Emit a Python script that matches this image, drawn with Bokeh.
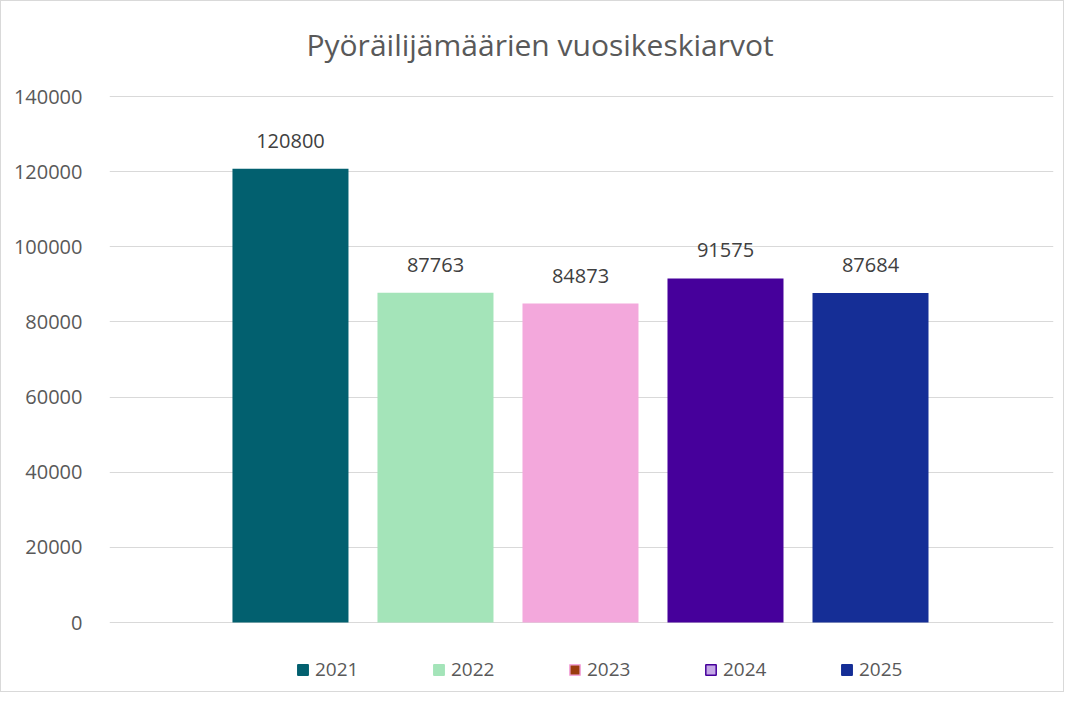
from bokeh.plotting import figure
from bokeh.models import ColumnDataSource, Range1d, FixedTicker, Legend, LegendItem, BasicTickFormatter
from bokeh.core.properties import value
from bokeh.embed import file_html
from bokeh.resources import INLINE

years = ["2021", "2022", "2023", "2024", "2025"]
averages = [120800, 87763, 84873, 91575, 87684]
bar_colors = ["#02606f", "#a4e4b9", "#f3a8dc", "#46009b", "#152e96"]
legend_fill = ["#02606f", "#a4e4b9", "#9b3c0f", "#c4a8e6", "#152e96"]
legend_line = ["#02606f", "#a4e4b9", "#f3a8dc", "#46009b", "#152e96"]
y_ticks = [0, 20000, 40000, 60000, 80000, 100000, 120000, 140000]
title_text = "Pyöräilijämäärien vuosikeskiarvot"

FONT = "Open Sans"
GREY = "#595959"

idx = list(range(len(years)))
src = ColumnDataSource(dict(x=idx, y=averages, color=bar_colors,
                            label=[str(v) for v in averages]))

# frame spans 72..692 px; 0 sits at 621 px and 140000 at 95 px (266.16 units / px)
p = figure(width=1064, height=692, output_backend="svg", toolbar_location=None,
           x_axis_type=None, x_range=Range1d(-1.248, 5.262), y_range=Range1d(-18897, 146122),
           min_border_left=108, min_border_right=12, min_border_top=72, min_border_bottom=0)
p.styles = {"border": "1px solid #d9d9d9"}
p.outline_line_color = None
p.background_fill_color = "white"
p.border_fill_color = "white"

p.title.text = title_text
p.title.align = "left"
p.title.text_font = FONT
p.title.text_font_size = "30px"
p.title.text_font_style = "normal"
p.title.text_color = GREY
p.title.offset = 197
p.title.standoff = 18

# legend swatch proxies (hidden behind the bars, drawn first)
items = []
for i, yr in enumerate(years):
    r = p.vbar(x=[idx[i]], top=[averages[i] / 2], bottom=[averages[i] / 4], width=0.2,
               fill_color=legend_fill[i], line_color=legend_line[i], line_width=1.5)
    items.append(LegendItem(label=yr, renderers=[r]))

p.vbar(x="x", top="y", width=0.8, source=src, fill_color="color", line_color=None)
p.text(x="x", y="y", text="label", source=src, text_align="center", text_baseline="bottom",
       y_offset=-21, text_font=value(FONT), text_font_size="20px", text_color="#404040")

p.xgrid.visible = False
p.ygrid.grid_line_color = "#d9d9d9"
p.ygrid.grid_line_width = 1

ax = p.yaxis[0]
ax.ticker = FixedTicker(ticks=y_ticks)
ax.formatter = BasicTickFormatter(use_scientific=False)
ax.axis_line_color = None
ax.major_tick_line_color = None
ax.minor_tick_line_color = None
ax.major_label_standoff = 21
ax.major_label_text_font = FONT
ax.major_label_text_font_size = "20px"
ax.major_label_text_color = GREY

leg = Legend(items=items, orientation="horizontal", location=(187, 11),
             glyph_width=13, glyph_height=13, label_standoff=6, label_width=44, spacing=73,
             padding=0, margin=0, border_line_color=None, background_fill_alpha=0,
             label_text_font=FONT, label_text_font_size="19px", label_text_color=GREY)
p.add_layout(leg, "center")

open("out.html", "w").write(file_html(p, INLINE))
